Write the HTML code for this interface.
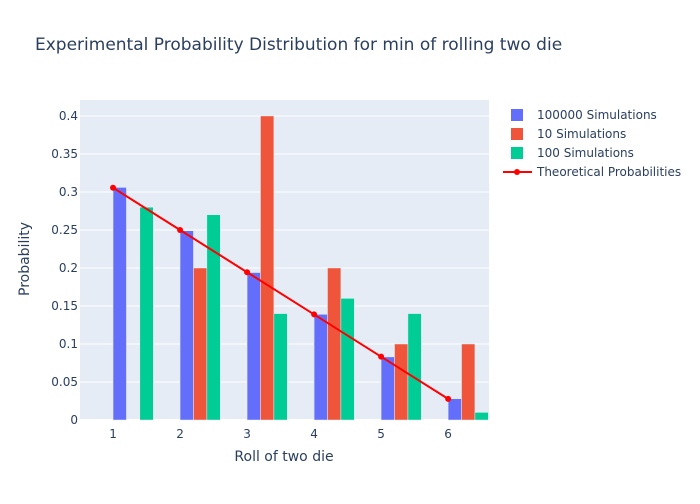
<!DOCTYPE html>
<html><head><meta charset="utf-8"><style>
body{margin:0;background:#fff;font-family:"DejaVu Sans",sans-serif;}
svg text{font-family:"DejaVu Sans",sans-serif;fill:#2a3f5f;}
</style></head><body>
<svg id="chart" width="700" height="500">
<rect width="700" height="500" fill="#fff"/>
<rect id="plotbg" x="80" y="100" width="409" height="320" fill="#e5ecf6"/>
<g id="grid"></g><g id="bars"></g><g id="line"></g><g id="axes"></g>
<text x="35" y="50" font-size="17">Experimental Probability Distribution for min of rolling two die</text>
<text x="284" y="461" font-size="14" text-anchor="middle">Roll of two die</text>
<text transform="translate(29,259) rotate(-90)" font-size="14" text-anchor="middle">Probability</text>
<g id="legend"></g>
</svg>
<script>
const categories=[1,2,3,4,5,6];
const sim100000=[0.306,0.249,0.194,0.139,0.083,0.028];
const sim10=[0,0.2,0.4,0.2,0.1,0.1];
const sim100=[0.28,0.27,0.14,0.16,0.14,0.01];
const theoretical=[0.3056,0.25,0.1944,0.1389,0.0833,0.0278];
const yTicks=[0,0.05,0.1,0.15,0.2,0.25,0.3,0.35,0.4];
const yTickLabels=["0","0.05","0.1","0.15","0.2","0.25","0.3","0.35","0.4"];
const xTicks=[1,2,3,4,5,6];
const NS='http://www.w3.org/2000/svg';
const X0=80,X1=489,Y0=420,Y1=100,xmin=0.507,xmax=6.61,ymin=0,ymax=0.421;
const xs=v=>X0+(v-xmin)/(xmax-xmin)*(X1-X0);
const ys=v=>Y0-(v-ymin)/(ymax-ymin)*(Y0-Y1);
function mk(tag,attrs,parent){const e=document.createElementNS(NS,tag);for(const k in attrs)e.setAttribute(k,attrs[k]);document.getElementById(parent).appendChild(e);return e;}
yTicks.forEach((t,i)=>{
 const g=mk('line',{x1:X0,x2:X1,y1:ys(t),y2:ys(t),stroke:'#fff','stroke-width':i==0?2:1},'grid');
 
 
 const l=mk('text',{x:X0-2,y:ys(t)+4,'font-size':12,'text-anchor':'end'},'axes');l.textContent=yTickLabels[i];
 
 
});
xTicks.forEach(t=>{
 const l=mk('text',{x:xs(t),y:Y0+14+4,'font-size':12,'text-anchor':'middle'},'axes');l.textContent=t;
 
 
});
const series=[[sim100000,'#636efa','bar-100000'],[sim10,'#EF553B','bar-10'],[sim100,'#00cc96','bar-100']];
series.forEach((s,k)=>{
 categories.forEach((c,i)=>{
  const xa=xs(c+0.2*k),xb=xs(c+0.2*(k+1));
  const r=mk('rect',{x:xa,y:ys(s[0][i]),width:xb-xa,height:ys(0)-ys(s[0][i]),fill:s[1],stroke:'#e5ecf6','stroke-width':0.5},'bars');
  
  
 });
});
const pts=categories.map((c,i)=>xs(c)+','+ys(theoretical[i])).join(' ');
const pl=mk('polyline',{points:pts,fill:'none',stroke:'red','stroke-width':2},'line');


categories.forEach((c,i)=>{
 const p=mk('circle',{cx:xs(c),cy:ys(theoretical[i]),r:3,fill:'red'},'line');
 
 
});
const leg=[['100000 Simulations','#636efa'],['10 Simulations','#EF553B'],['100 Simulations','#00cc96'],['Theoretical Probabilities','red']];
leg.forEach((l,i)=>{
 const y=115+i*19;
 if(i<3){const r=mk('rect',{x:511,y:y-6,width:12,height:12,fill:l[1]},'legend');
  
  }
 else{const ln=mk('line',{x1:503,x2:532,y1:y,y2:y,stroke:'red','stroke-width':2},'legend');
  
  
  mk('circle',{cx:517,cy:y,r:3,fill:'red'},'legend');}
 const t=mk('text',{x:537,y:y+4,'font-size':12},'legend');t.textContent=l[0];
 
 
});
</script>
</body></html>
